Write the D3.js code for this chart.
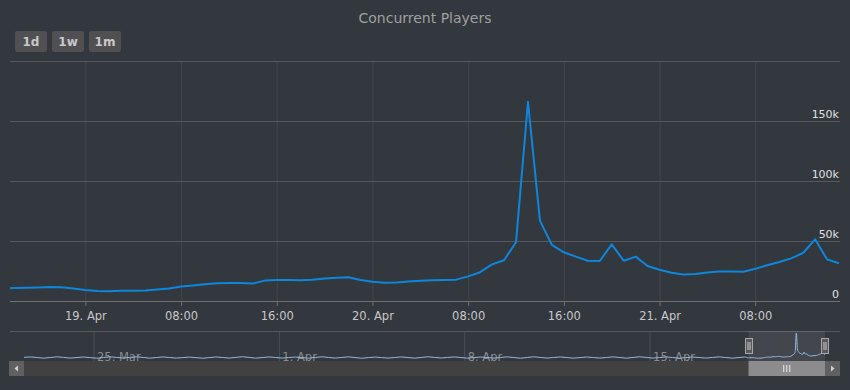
<!DOCTYPE html>
<html>
<head>
<meta charset="utf-8">
<script src="https://cdn.jsdelivr.net/npm/d3@7"></script>
<style>
  html, body { margin: 0; padding: 0; background: #33373e; }
  svg { display: block; font-family: "DejaVu Sans", sans-serif; }
</style>
</head>
<body>
<svg id="chart" width="850" height="390"></svg>
<script>
// main series: hourly concurrent players (thousands), from 18 Apr 17:00
const mainStart = Date.UTC(2019, 3, 18, 17);
const mainValues = [
  10.5, 10.8, 11, 11.3, 11.6, 11.5, 10.5,
  9.2, 8.3, 8.2, 8.5, 8.5, 8.7, 9.5, 10.5, 12, 13,
  14, 14.7, 15, 15, 14.5, 17, 17.5, 17.5, 17.3, 17.8, 18.8, 19.3, 19.8, 17.5,
  16, 15.2, 15.5, 16.2, 16.8, 17.2, 17.4, 17.8, 20.5, 24, 30.5, 34, 49, 166, 67, 46.7,
  40.6, 37, 33.5, 33.3, 47.2, 33.6, 37, 29.2,
  26, 23.5, 22, 22.5, 23.8, 24.6, 24.5, 24.4, 26.8, 29.8, 32.5, 35.5, 40, 51.4, 34.7, 31.5
];

// navigator history: 12-hourly (03:00 / 15:00) from 22 Mar 03:00
const navStart = Date.UTC(2019, 2, 22, 3);
const navValues = [
  9, 16, 8.5, 17, 9, 15.5, 8, 16.5, 9.5, 17, 8.5, 16, 9, 15,
  8, 16, 9, 17.5, 8.5, 16, 9, 15.5, 8.5, 17, 9, 16.5, 8, 15,
  9, 16, 8.5, 17, 9.5, 16, 8.5, 15.5, 9, 16.5, 8, 17, 9, 16,
  8.5, 15.5, 9, 16.5, 8.5, 17, 9, 16, 8.5, 15.5, 9, 16.5, 8.5, 16
];

const yTicks = [0, 50, 100, 150];
const yGrid = [0, 50, 100, 150, 200];
const buttons = ["1d", "1w", "1m"];
const title = "Concurrent Players";

const HOUR = 3600 * 1000;
const mainData = mainValues.map((v, i) => ({ t: new Date(mainStart + i * HOUR), v: v }));
const navHist = navValues.map((v, i) => ({ t: new Date(navStart + i * 12 * HOUR), v: v }));
const navData = navHist.concat(mainData);

const svg = d3.select("#chart");
const W = 850;
const plot = { left: 10, right: 840, top: 61, bottom: 301 };

svg.append("rect").attr("width", W).attr("height", 390).attr("fill", "#33373e");

// title
svg.append("text")
  .attr("x", W / 2).attr("y", 23)
  .attr("text-anchor", "middle")
  .attr("font-size", 14)
  .attr("fill", "#a0a0a0")
  .text(title);

// range buttons
const bx = d3.scaleBand().domain(buttons).range([15, 121]).paddingInner(0.135);
const bg = svg.append("g").selectAll("g").data(buttons).join("g")
  .attr("transform", d => `translate(${bx(d)},31)`);
bg.append("rect")
  .attr("width", bx.bandwidth()).attr("height", 21).attr("rx", 2)
  .attr("fill", "#505053");
bg.append("text")
  .attr("x", bx.bandwidth() / 2).attr("y", 15)
  .attr("text-anchor", "middle")
  .attr("font-size", 12).attr("font-weight", "bold")
  .attr("fill", "#c8c8c8")
  .text(d => d);

// main scales
const x = d3.scaleUtc()
  .domain([new Date(Date.UTC(2019, 3, 18, 17, 42)), new Date(Date.UTC(2019, 3, 21, 15))])
  .range([plot.left, plot.right - 1]);
const y = d3.scaleLinear().domain([0, 200]).range([plot.bottom, plot.top]);

const fmtTick = d => (d.getUTCHours() === 0 ? d3.utcFormat("%-d. %b")(d) : d3.utcFormat("%H:%M")(d));

// vertical grid
svg.append("g")
  .attr("transform", `translate(0,${plot.bottom})`)
  .call(d3.axisBottom(x).ticks(d3.utcHour.every(8)).tickSize(-(plot.bottom - plot.top)).tickFormat(""))
  .call(g => g.select(".domain").remove())
  .call(g => g.selectAll("line").attr("stroke", "#42464e"));

// horizontal grid
svg.append("g")
  .attr("transform", `translate(${plot.left},0)`)
  .call(d3.axisLeft(y).tickValues(yGrid).tickSize(-(plot.right - plot.left)).tickFormat(""))
  .call(g => g.select(".domain").remove())
  .call(g => g.selectAll("line").attr("stroke", "#55585e"));

// x axis
svg.append("g")
  .attr("transform", `translate(0,${plot.bottom})`)
  .call(d3.axisBottom(x).ticks(d3.utcHour.every(8)).tickSize(5).tickPadding(6).tickFormat(fmtTick))
  .call(g => g.select(".domain").attr("stroke", "#707070").attr("d", `M${plot.left},0.5H${plot.right}`))
  .call(g => g.selectAll("line").attr("stroke", "#707070"))
  .call(g => g.selectAll("text").attr("fill", "#c8c8c8").attr("font-size", 11.5).attr("font-family", "DejaVu Sans"));

// y labels
svg.append("g")
  .attr("transform", `translate(${plot.right - 1},0)`)
  .call(d3.axisLeft(y).tickValues(yTicks).tickSize(0).tickPadding(0).tickFormat(d => (d === 0 ? "0" : d + "k")))
  .call(g => g.select(".domain").remove())
  .call(g => g.selectAll("text").attr("dy", "-4").attr("fill", "#e0e0e0")
    .attr("font-size", 11).attr("font-family", "DejaVu Sans"));

// main line
svg.append("clipPath").attr("id", "clip-main")
  .append("rect").attr("x", plot.left).attr("y", 0).attr("width", plot.right - plot.left).attr("height", plot.bottom + 2);

svg.append("path")
  .datum(mainData)
  .attr("clip-path", "url(#clip-main)")
  .attr("fill", "none")
  .attr("stroke", "#0d87dc")
  .attr("stroke-width", 2)
  .attr("stroke-linejoin", "round")
  .attr("d", d3.line().x(d => x(d.t)).y(d => y(d.v)));

// navigator
const nav = { left: 24, right: 825, top: 331, bottom: 361 };
const nx = d3.scaleUtc()
  .domain([new Date(Date.UTC(2019, 2, 22, 9)), mainData[mainData.length - 1].t])
  .range([nav.left, nav.right]);
const ny = d3.scaleLinear().domain([0, 166]).range([359.5, 333]);

svg.append("g")
  .attr("transform", `translate(0,${nav.bottom})`)
  .call(d3.axisBottom(nx).ticks(d3.utcMonday.every(1)).tickSize(-(nav.bottom - nav.top)).tickFormat(""))
  .call(g => g.select(".domain").remove())
  .call(g => g.selectAll("line").attr("stroke", "#4a4e56"));

svg.append("g")
  .attr("transform", `translate(0,${nav.top})`)
  .call(d3.axisBottom(nx).ticks(d3.utcMonday.every(1)).tickSize(0).tickPadding(0).tickFormat(d3.utcFormat("%-d. %b")))
  .call(g => g.select(".domain").remove())
  .call(g => g.selectAll("text").attr("text-anchor", "start").attr("dx", 3).attr("y", 22)
    .attr("fill", "#8a8a8a").attr("font-size", 11.5).attr("font-family", "DejaVu Sans"));

svg.append("line")
  .attr("x1", plot.left).attr("x2", plot.right)
  .attr("y1", nav.top + 0.5).attr("y2", nav.top + 0.5)
  .attr("stroke", "#55585e");

const selX0 = nx(x.domain()[0]);
const selX1 = nav.right;
svg.append("rect")
  .attr("x", selX0).attr("y", nav.top).attr("width", selX1 - selX0).attr("height", nav.bottom - nav.top)
  .attr("fill", "rgba(255,255,255,0.08)");

svg.append("clipPath").attr("id", "clip-nav")
  .append("rect").attr("x", nav.left).attr("y", nav.top).attr("width", nav.right - nav.left).attr("height", nav.bottom - nav.top);

svg.append("path")
  .datum(navData)
  .attr("clip-path", "url(#clip-nav)")
  .attr("fill", "none")
  .attr("stroke", "#94b8dc")
  .attr("stroke-width", 1)
  .attr("d", d3.line().curve(d3.curveMonotoneX).x(d => nx(d.t)).y(d => ny(d.v)));

// handles
[selX0, selX1].forEach(hx => {
  const h = svg.append("g").attr("transform", `translate(${Math.round(hx) - 4},338)`);
  h.append("rect").attr("x", 0.5).attr("y", 0.5).attr("width", 7).attr("height", 15)
    .attr("fill", "#5a5a5d").attr("stroke", "#a8a8a8");
  [3, 5].forEach(lx => h.append("line").attr("x1", lx).attr("x2", lx).attr("y1", 4).attr("y2", 12).attr("stroke", "#c8c8c8"));
});

// scrollbar
const sb = { top: 361, h: 15 };
svg.append("rect").attr("x", 9).attr("y", sb.top).attr("width", 831).attr("height", sb.h).attr("fill", "#414142");
svg.append("rect").attr("x", 9).attr("y", sb.top).attr("width", 15).attr("height", sb.h).attr("fill", "#606063");
svg.append("rect").attr("x", 825).attr("y", sb.top).attr("width", 15).attr("height", sb.h).attr("fill", "#606063");
svg.append("path").attr("d", `M14.5,${sb.top + 7.5}L18,${sb.top + 4.5}V${sb.top + 10.5}Z`).attr("fill", "#d0d0d0");
svg.append("path").attr("d", `M834.5,${sb.top + 7.5}L831,${sb.top + 4.5}V${sb.top + 10.5}Z`).attr("fill", "#d0d0d0");
svg.append("rect").attr("x", selX0).attr("y", sb.top).attr("width", selX1 - selX0).attr("height", sb.h).attr("fill", "#8c8c8e");
const gx = (selX0 + selX1) / 2;
[-3, 0, 3].forEach(o => svg.append("line")
  .attr("x1", gx + o).attr("x2", gx + o).attr("y1", sb.top + 4).attr("y2", sb.top + 11)
  .attr("stroke", "#eeeeee"));
</script>
</body>
</html>
